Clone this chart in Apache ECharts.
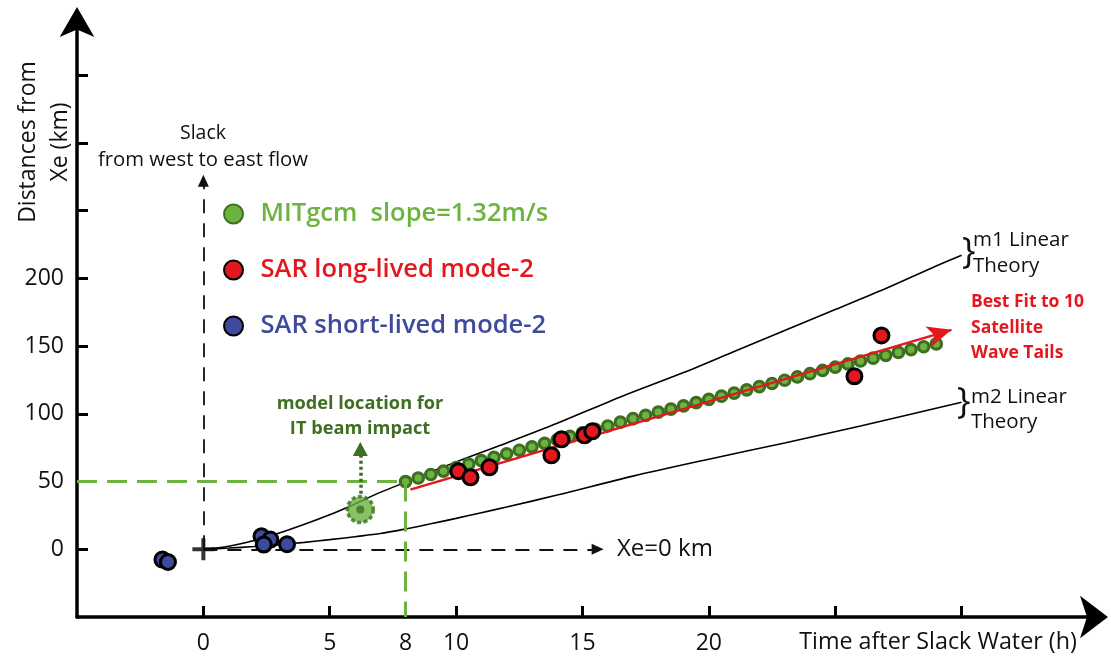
<!DOCTYPE html>
<html>
<head>
<meta charset="utf-8">
<title>Mode-2 wave distance from Xe versus time after slack water</title>
<script src="https://cdn.jsdelivr.net/npm/echarts@6/dist/echarts.min.js"></script>
<style>
  html, body { margin: 0; padding: 0; background: #ffffff; }
  #chart { width: 1111px; height: 657px; }
</style>
</head>
<body>
<div id="chart"></div>
<script>
// ---- data (hours after slack water, km from Xe) ----
const xTickValues = [0, 5, 10, 15, 20, 25, 30];
const xLabelValues = [0, 5, 8, 10, 15, 20];
const yTickValues = [0, 50, 100, 150, 200, 250, 300, 350];
const yLabelValues = [0, 50, 100, 150, 200];

// MITgcm wave-front positions, every half hour from 8 h
const mitgcmHours = [8, 8.5, 9, 9.5, 10, 10.5, 11, 11.5, 12, 12.5, 13, 13.5, 14, 14.5, 15, 15.5,
  16, 16.5, 17, 17.5, 18, 18.5, 19, 19.5, 20, 20.5, 21, 21.5, 22, 22.5, 23, 23.5, 24, 24.5,
  25, 25.5, 26, 26.5, 27, 27.5, 28, 28.5, 29];
const mitgcmKm = [50, 52.6, 55.2, 57.7, 60.3, 62.8, 65.4, 67.9, 70.5, 73.1, 75.6, 78.2, 80.8, 83.3, 85.9, 88.5,
  91, 93.8, 96.4, 98.8, 101.2, 103.5, 105.9, 108.3, 110.6, 113, 115.3, 117.7, 120.1, 122.4, 124.8, 127.2, 129.6, 132,
  134.4, 136.8, 139, 141.1, 143.2, 145.3, 147.4, 149.5, 151.6];

// SAR observations
const sarLongHours = [10.09, 10.57, 11.32, 13.77, 14.17, 15.08, 15.39, 25.76, 26.83];
const sarLongKm = [57.6, 53.1, 60.5, 69.4, 81.2, 84.1, 87.1, 127.7, 157.9];
const sarShortHours = [-1.62, -1.40, 2.30, 2.65, 2.39, 3.31];
const sarShortKm = [-7.6, -9.4, 9.6, 7.2, 3.5, 3.7];

// linear-theory curves
const m1Hours = [0, 1, 2, 3, 4, 5, 6, 7, 8, 10, 12, 14, 16.5, 19, 21, 23, 25, 27, 28.8, 30];
const m1Km = [0, 2.2, 6.5, 12, 18.5, 25.5, 33.5, 42, 49.5, 64.5, 78.5, 93, 112.5, 130.5, 146, 161.5, 177, 192.5, 207.5, 217];
const m2Hours = [0, 1, 2, 3, 4, 5, 6, 7, 8, 9, 10, 11, 12, 14, 17, 20, 23, 26, 30];
const m2Km = [0, 0.9, 2.0, 3.4, 5.1, 7.1, 9.3, 11.6, 15, 18.8, 22.8, 27, 31.2, 40, 54, 66.5, 78.5, 91, 108.5];

// best fit to the 10 satellite wave tails (start, arrow end)
const bestFitHours = [8.19, 29.6];
const bestFitKm = [44, 162];

// model location for the IT beam impact
const impactPoint = [6.21, 29.3];
const impactArrowKm = [41, 74];

// reference guides
const slackArrowKm = 272;      // vertical slack arrow at t = 0
const xeArrowHours = 15.6;     // horizontal Xe = 0 km arrow
const guideHour = 8;
const guideKm = 50;
const origin = [0, 0];

const zip = (xs, ys) => xs.map((x, i) => [x, ys[i]]);

const FONT = '"Open Sans", "Noto Sans", sans-serif';
const GREEN = '#6cb33f';
const DARK_GREEN = '#3e6e21';
const RED = '#e3171e';
const BLUE = '#3e4a9c';

const chart = echarts.init(document.getElementById('chart'), null, { renderer: 'canvas' });

const option = {
  backgroundColor: '#ffffff',
  animation: false,
  textStyle: { fontFamily: FONT },
  grid: { left: 77, right: 18, top: 21, bottom: 40, containLabel: false },
  xAxis: {
    type: 'value',
    min: -5,
    max: 35.2,
    splitLine: { show: false },
    axisLine: {
      onZero: false,
      lineStyle: { color: '#000', width: 3.5 },
      symbol: ['none', 'arrow'],
      symbolSize: [32, 28],
      symbolOffset: [0, 15]
    },
    axisTick: {
      inside: true, length: 11, customValues: xTickValues,
      lineStyle: { color: '#000', width: 3 }
    },
    axisLabel: {
      customValues: xLabelValues, margin: 15,
      color: '#111', fontSize: 23, fontFamily: FONT
    }
  },
  yAxis: {
    type: 'value',
    min: -50,
    max: 390,
    splitLine: { show: false },
    axisLine: {
      onZero: false,
      lineStyle: { color: '#000', width: 3.5 },
      symbol: ['none', 'arrow'],
      symbolSize: [26, 30],
      symbolOffset: [0, 14]
    },
    axisTick: {
      inside: true, length: 11, customValues: yTickValues,
      lineStyle: { color: '#000', width: 3 }
    },
    axisLabel: {
      customValues: yLabelValues, margin: 13,
      color: '#111', fontSize: 23, fontFamily: FONT
    }
  },
  legend: {
    orient: 'vertical',
    left: 218,
    top: 196,
    itemWidth: 36,
    itemHeight: 19,
    itemGap: 30,
    selectedMode: false,
    textStyle: { fontSize: 25.5, fontWeight: 600, fontFamily: FONT, lineHeight: 25, padding: [0, 0, 0, 4] },
    data: [
      { name: 'MITgcm  slope=1.32m/s', textStyle: { color: GREEN } },
      { name: 'SAR long-lived mode-2', textStyle: { color: RED } },
      { name: 'SAR short-lived mode-2', textStyle: { color: BLUE } }
    ]
  },
  series: [
    {
      // m1 linear theory, plus the dashed slack / Xe reference arrows
      name: 'm1', type: 'line', z: 2, smooth: 0.3, showSymbol: false, silent: true,
      data: zip(m1Hours, m1Km),
      lineStyle: { color: '#000', width: 1.6 },
      markLine: {
        silent: true, symbol: ['none', 'triangle'], symbolSize: [11, 12],
        label: { show: false },
        lineStyle: { color: '#111', width: 1.8, type: [14, 10] },
        data: [
          [{ coord: origin }, { coord: [origin[0], slackArrowKm] }],
          [{ coord: origin }, { coord: [xeArrowHours, origin[1]] }]
        ]
      }
    },
    {
      name: 'm2', type: 'line', z: 2, smooth: 0.3, showSymbol: false, silent: true,
      data: zip(m2Hours, m2Km),
      lineStyle: { color: '#000', width: 1.6 }
    },
    {
      // origin cross
      name: 'origin', type: 'scatter', z: 3, silent: true,
      symbol: 'path://M0,9H9V0H13V9H22V13H13V22H9V13H0Z', symbolSize: 22,
      itemStyle: { color: '#000' },
      data: [origin]
    },
    {
      name: 'MITgcm  slope=1.32m/s', type: 'scatter', z: 3, silent: true,
      symbolSize: 10.5,
      itemStyle: { color: GREEN, borderColor: DARK_GREEN, borderWidth: 3.2, opacity: 1 },
      data: zip(mitgcmHours, mitgcmKm),
      markLine: {
        silent: true, symbol: 'none',
        label: { show: false },
        lineStyle: { color: GREEN, width: 3, type: [20, 10] },
        data: [
          [{ coord: [-5, guideKm] }, { coord: [guideHour, guideKm] }],
          [{ coord: [guideHour, guideKm] }, { coord: [guideHour, -50] }]
        ]
      }
    },
    {
      // model location for the IT beam impact
      name: 'impact', type: 'scatter', z: 3, silent: true,
      symbolSize: 26,
      itemStyle: { color: GREEN, borderColor: DARK_GREEN, borderWidth: 3.5, borderType: [4, 2.5] },
      data: [impactPoint],
      markLine: {
        silent: true, symbol: ['none', 'triangle'], symbolSize: [15, 14],
        label: { show: false },
        lineStyle: { color: DARK_GREEN, width: 3.5, type: [3, 3] },
        data: [[{ coord: [impactPoint[0], impactArrowKm[0]] }, { coord: [impactPoint[0], impactArrowKm[1]] }]]
      }
    },
    {
      name: 'impact-core', type: 'scatter', z: 3, silent: true,
      symbolSize: 8,
      itemStyle: { color: DARK_GREEN },
      data: [impactPoint]
    },
    {
      // best fit to the satellite wave tails
      name: 'best fit', type: 'line', z: 4, silent: true, data: [],
      markLine: {
        silent: true, symbol: ['none', 'arrow'], symbolSize: [16, 24],
        label: { show: false },
        lineStyle: { color: RED, width: 2.5, type: 'solid' },
        data: [[{ coord: [bestFitHours[0], bestFitKm[0]] }, { coord: [bestFitHours[1], bestFitKm[1]] }]]
      }
    },
    {
      name: 'SAR long-lived mode-2', type: 'scatter', z: 5, silent: true,
      symbolSize: 15,
      itemStyle: { color: RED, borderColor: '#000', borderWidth: 3, opacity: 1 },
      data: zip(sarLongHours, sarLongKm)
    },
    {
      name: 'SAR short-lived mode-2', type: 'scatter', z: 5, silent: true,
      symbolSize: 15,
      itemStyle: { color: BLUE, borderColor: '#000', borderWidth: 3, opacity: 1 },
      data: zip(sarShortHours, sarShortKm)
    }
  ],
  graphic: [
    {
      type: 'text', x: 44, y: 142, rotation: Math.PI / 2,
      style: {
        text: 'Distances from\nXe (km)', fill: '#111', font: '23px ' + FONT,
        textAlign: 'center', textVerticalAlign: 'middle', lineHeight: 32
      }
    },
    {
      type: 'text', x: 938, y: 642,
      style: { text: 'Time after Slack Water (h)', fill: '#111', font: '23.3px ' + FONT, textAlign: 'center', textVerticalAlign: 'middle' }
    },
    {
      type: 'text', x: 203, y: 133,
      style: { text: 'Slack', fill: '#111', font: '19.5px ' + FONT, textAlign: 'center', textVerticalAlign: 'middle' }
    },
    {
      type: 'text', x: 203, y: 160,
      style: { text: 'from west to east flow', fill: '#111', font: '20.3px ' + FONT, textAlign: 'center', textVerticalAlign: 'middle' }
    },
    {
      type: 'text', x: 617, y: 549,
      style: { text: 'Xe=0 km', fill: '#111', font: '24px ' + FONT, textAlign: 'left', textVerticalAlign: 'middle' }
    },
    {
      type: 'text', x: 360, y: 404,
      style: { text: 'model location for', fill: DARK_GREEN, font: 'bold 18.2px ' + FONT, textAlign: 'center', textVerticalAlign: 'middle' }
    },
    {
      type: 'text', x: 360, y: 429,
      style: { text: 'IT beam impact', fill: DARK_GREEN, font: 'bold 18.2px ' + FONT, textAlign: 'center', textVerticalAlign: 'middle' }
    },
    {
      type: 'text', x: 962, y: 253,
      style: { text: '}', fill: '#111', font: '36px ' + FONT, textAlign: 'left', textVerticalAlign: 'middle' }
    },
    {
      type: 'text', x: 973, y: 240,
      style: { text: 'm1 Linear', fill: '#111', font: '20.5px ' + FONT, textAlign: 'left', textVerticalAlign: 'middle' }
    },
    {
      type: 'text', x: 973, y: 266,
      style: { text: 'Theory', fill: '#111', font: '20.5px ' + FONT, textAlign: 'left', textVerticalAlign: 'middle' }
    },
    {
      type: 'text', x: 957, y: 403,
      style: { text: '}', fill: '#111', font: '36px ' + FONT, textAlign: 'left', textVerticalAlign: 'middle' }
    },
    {
      type: 'text', x: 971, y: 397,
      style: { text: 'm2 Linear', fill: '#111', font: '20.5px ' + FONT, textAlign: 'left', textVerticalAlign: 'middle' }
    },
    {
      type: 'text', x: 971, y: 422,
      style: { text: 'Theory', fill: '#111', font: '20.5px ' + FONT, textAlign: 'left', textVerticalAlign: 'middle' }
    },
    {
      type: 'text', x: 971, y: 302,
      style: { text: 'Best Fit to 10', fill: RED, font: 'bold 17.5px ' + FONT, textAlign: 'left', textVerticalAlign: 'middle' }
    },
    {
      type: 'text', x: 971, y: 328,
      style: { text: 'Satellite', fill: RED, font: 'bold 17.5px ' + FONT, textAlign: 'left', textVerticalAlign: 'middle' }
    },
    {
      type: 'text', x: 971, y: 353,
      style: { text: 'Wave Tails', fill: RED, font: 'bold 17.5px ' + FONT, textAlign: 'left', textVerticalAlign: 'middle' }
    }
  ]
};

chart.setOption(option);
</script>
</body>
</html>
